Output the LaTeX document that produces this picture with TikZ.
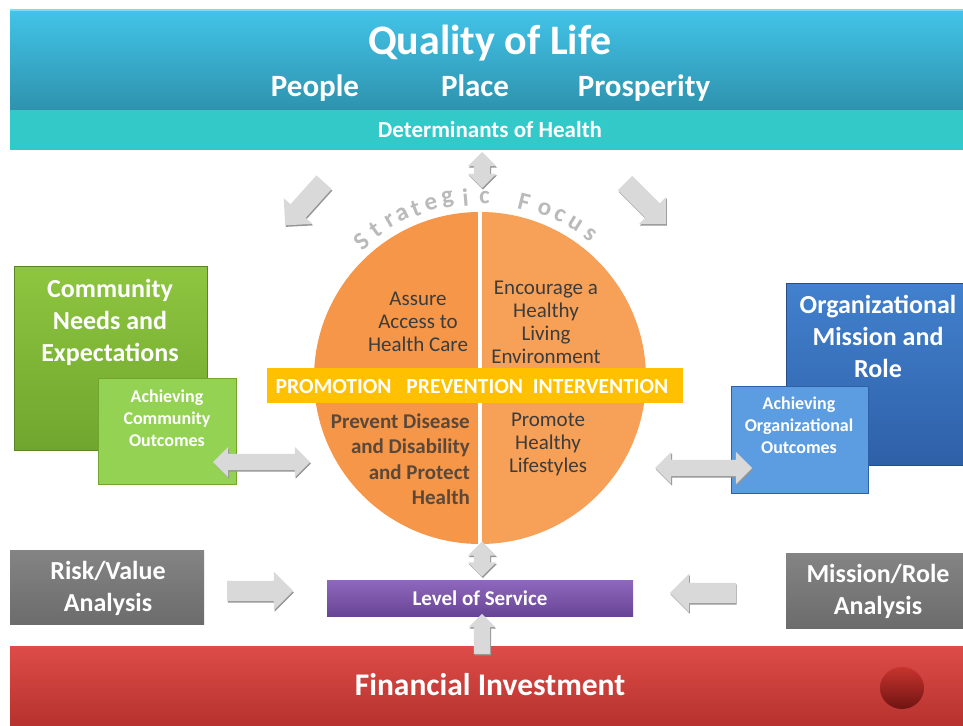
\documentclass[tikz,border=0pt]{standalone}
\usepackage{fontspec}
\setmainfont{Carlito}
\usetikzlibrary{shapes.arrows,shadows}

\definecolor{qolTop}{RGB}{66,196,232}
\definecolor{qolBot}{RGB}{46,146,174}
\definecolor{qolEdge}{RGB}{120,222,245}
\definecolor{detCol}{RGB}{52,201,201}
\definecolor{greenTop}{RGB}{142,198,64}
\definecolor{greenBot}{RGB}{112,166,46}
\definecolor{greenLt}{RGB}{148,210,84}
\definecolor{blueTop}{RGB}{66,129,206}
\definecolor{blueBot}{RGB}{46,96,168}
\definecolor{blueLt}{RGB}{92,156,224}
\definecolor{grayTop}{RGB}{132,132,132}
\definecolor{grayBot}{RGB}{108,108,108}
\definecolor{purpTop}{RGB}{142,104,188}
\definecolor{purpBot}{RGB}{104,68,150}
\definecolor{redTop}{RGB}{222,76,72}
\definecolor{redBot}{RGB}{182,50,46}
\definecolor{orangeL}{RGB}{246,150,72}
\definecolor{orangeR}{RGB}{247,160,88}
\definecolor{barYellow}{RGB}{255,192,0}
\definecolor{arrowgray}{RGB}{217,217,217}
\definecolor{arrowshade}{RGB}{150,150,150}
\definecolor{quadGray}{RGB}{60,60,60}
\definecolor{quadBrown}{RGB}{92,72,56}
\definecolor{sfGray}{RGB}{186,186,186}

\begin{document}
\begin{tikzpicture}[x=1pt,y=-1pt,
bx/.style={rectangle,draw=none,inner sep=0pt},
txt/.style 2 args={text=white,align=center,inner sep=0pt,font=\bfseries\fontsize{#1}{#2}\selectfont},
quad/.style 2 args={align=center,inner sep=0pt,font=\fontsize{#1}{#2}\selectfont},
sfletter/.style={text=sfGray,inner sep=0pt,font=\bfseries\fontsize{25}{25}\selectfont},
garrow/.style={single arrow,fill=arrowgray,draw=none,inner xsep=0pt,
  drop shadow={shadow xshift=0.8pt,shadow yshift=-1.5pt,fill=arrowshade,opacity=1}},
dgarrow/.style={double arrow,fill=arrowgray,draw=none,inner xsep=0pt,
  drop shadow={shadow xshift=0.8pt,shadow yshift=-1.5pt,fill=arrowshade,opacity=1}}]
\useasboundingbox (0,0) rectangle (963,725);
\fill[white] (0,0) rectangle (963,725);
% top banner
\node[bx,minimum width=953pt,minimum height=100pt,top color=qolTop,bottom color=qolBot] (qol) at (486.5,60) {};
\draw[qolEdge,line width=2pt] (qol.north west)--(qol.north east);
\node[bx,minimum width=953pt,minimum height=40pt,fill=detCol] (det) at (486.5,130) {};
\node[txt={42}{42},anchor=base] (qolT) at (490,55) {Quality of Life};
\node[txt={31}{31},anchor=base] (people) at (315,96) {People};
\node[txt={31}{31},anchor=base] (place) at (475,96) {Place};
\node[txt={31}{31},anchor=base] (prosp) at (644,96) {Prosperity};
\node[txt={23}{23},anchor=base] (detT) at (490,137) {Determinants of Health};
% bottom bar
\node[bx,minimum width=953pt,minimum height=79pt,top color=redTop,bottom color=redBot] (fin) at (486.5,685.5) {};
\node[txt={31.5}{31.5},anchor=base] (finT) at (490,695) {Financial Investment};
\shade[top color={rgb,255:red,200;green,52;blue,46},bottom color={rgb,255:red,110;green,20;blue,18}] (902,688) ellipse (22pt and 21pt);
% left boxes
\node[bx,minimum width=193pt,minimum height=184pt,top color=greenTop,bottom color=greenBot,draw=greenBot!80!black] (cneeds) at (110.5,358) {};
\node[txt={26}{32}] (cneedsT) at (110,322) {Community\\Needs and\\Expectations};
\node[bx,minimum width=138pt,minimum height=106pt,fill=greenLt,draw=greenBot] (achC) at (167,431) {};
\node[txt={18}{22}] (achCT) at (167,418) {Achieving\\Community\\Outcomes};
% right boxes
\node[bx,minimum width=177pt,minimum height=182pt,top color=blueTop,bottom color=blueBot,draw=blueBot!80!black] (orgM) at (874.5,374) {};
\node[txt={26}{32}] (orgMT) at (878,336) {Organizational\\Mission and\\Role};
\node[bx,minimum width=137pt,minimum height=107pt,fill=blueLt,draw=blueBot] (achO) at (799.5,439.5) {};
\node[txt={18}{22}] (achOT) at (799,425) {Achieving\\Organizational\\Outcomes};
% analysis boxes and level of service
\node[bx,minimum width=194pt,minimum height=74pt,top color=grayTop,bottom color=grayBot] (riskB) at (107,587) {};
\node[txt={26}{32}] (riskT) at (108,588) {Risk/Value\\Analysis};
\node[bx,minimum width=177pt,minimum height=75pt,top color=grayTop,bottom color=grayBot] (missB) at (874.5,590.5) {};
\node[txt={26}{32}] (missT) at (878,591) {Mission/Role\\Analysis};
\node[bx,minimum width=306pt,minimum height=36pt,top color=purpTop,bottom color=purpBot] (los) at (480,598) {};
\node[txt={21}{21},anchor=base] (losT) at (480,605) {Level of Service};
% strategic focus circle
\begin{scope}
\clip (480,378) circle (166pt);
\fill[orangeL] (300,200) rectangle (478,560);
\fill[orangeR] (482,200) rectangle (660,560);
\end{scope}
\foreach \l/\a [count=\i] in {S/131,t/125.2,r/119.7,a/115.5,t/110.8,e/105.7,g/100.3,i/94.6,c/88.6,F/75.9,o/69.1,c/63.9,u/58.4,s/52.5}
  \node[sfletter,rotate=\a-90] (sf\i) at ({480+181*cos(\a)},{378-181*sin(\a)}) {\l};
\node[quad={21}{23},text=quadGray] (assure) at (418,322) {Assure\\Access to\\Health Care};
\node[quad={21}{23},text=quadGray] (encour) at (546,322) {Encourage a\\Healthy\\Living\\Environment};
\node[quad={21}{25.5},text=quadBrown,font=\bfseries\fontsize{21}{25.5}\selectfont,align=right,anchor=east] (prevent) at (470,459) {Prevent Disease\\and Disability\\and Protect\\Health};
\node[quad={21}{23},text=quadGray] (promote) at (548,444) {Promote\\Healthy\\Lifestyles};
\node[bx,minimum width=416pt,minimum height=35pt,fill=barYellow] (ppi) at (475,385.5) {};
\node[txt={21.5}{21.5},anchor=base] (ppiT) at (472,393) {PROMOTION\hspace{15pt}PREVENTION\hspace{10pt}INTERVENTION};
% block arrows
\node[dgarrow,minimum height=36pt,minimum width=28pt,inner ysep=8pt,double arrow head extend=6pt,rotate=90] (arrTop) at (482,170) {};
\node[garrow,minimum height=58pt,minimum width=38pt,inner ysep=10pt,single arrow head extend=9pt,rotate=228] (arrDL) at (308,200) {};
\node[garrow,minimum height=58pt,minimum width=38pt,inner ysep=10pt,single arrow head extend=9pt,rotate=-45] (arrDR) at (642,200) {};
\node[dgarrow,minimum height=97pt,minimum width=30pt,inner ysep=8pt,double arrow head extend=7pt] (arrL) at (261.5,462) {};
\node[dgarrow,minimum height=97pt,minimum width=32pt,inner ysep=8pt,double arrow head extend=8pt] (arrR) at (703.5,468) {};
\node[dgarrow,minimum height=35pt,minimum width=28pt,inner ysep=8pt,double arrow head extend=6pt,rotate=90] (arrBot) at (482,559) {};
\node[garrow,minimum height=66pt,minimum width=38pt,inner ysep=10pt,single arrow head extend=9pt] (arrRisk) at (255,591) {};
\node[garrow,minimum height=66pt,minimum width=38pt,inner ysep=10pt,single arrow head extend=9pt,rotate=180] (arrMiss) at (708,593) {};
\node[garrow,minimum height=40pt,minimum width=26pt,inner ysep=8pt,single arrow head extend=5pt,rotate=90] (arrUp) at (482,638) {};
\end{tikzpicture}
\end{document}
